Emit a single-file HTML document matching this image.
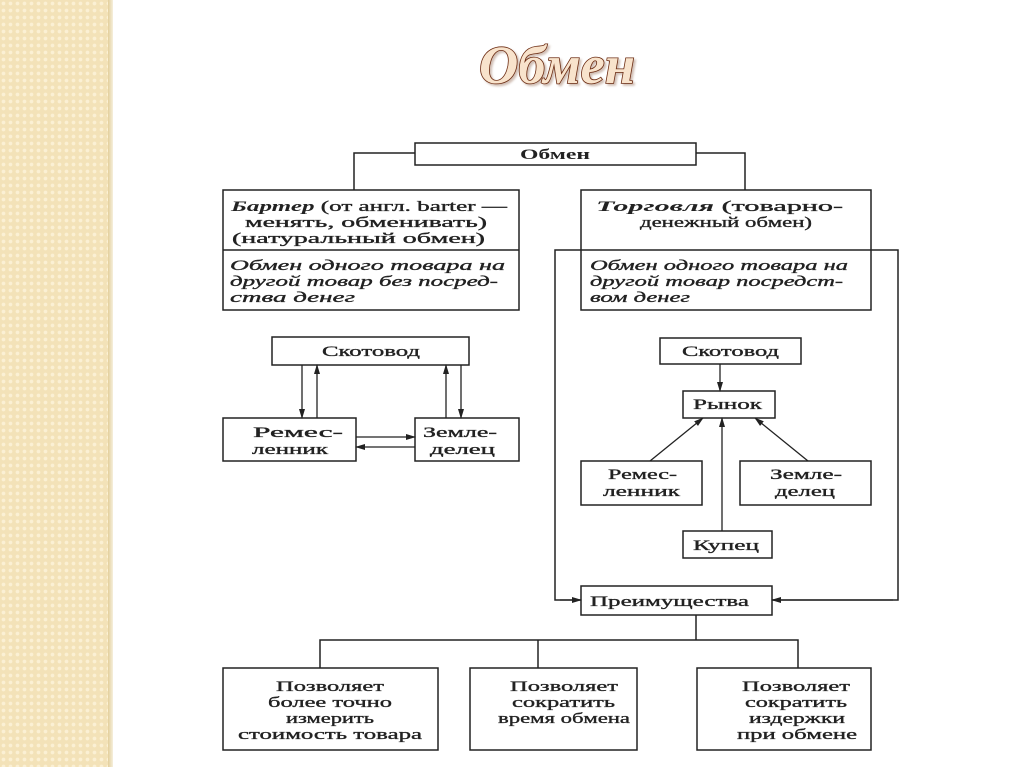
<!DOCTYPE html>
<html><head><meta charset="utf-8"><style>
html,body{margin:0;padding:0;width:1024px;height:767px;overflow:hidden;background:#fff}
.band{position:absolute;left:0;top:0;width:108px;height:767px;background-color:#f3e2b8;
background-image:radial-gradient(circle,#fbf0d4 1.5px,transparent 2.2px);background-size:7px 7px}
.edge{position:absolute;left:108px;top:0;width:5px;height:767px;background:linear-gradient(90deg,#e3cf9c,#f6efdc)}
svg{position:absolute;left:0;top:0}
text{font-family:"Liberation Serif",serif;font-size:15px;fill:#222;font-weight:bold}
.n{font-weight:normal;stroke:#222;stroke-width:0.35px}
.it{font-style:italic;font-weight:normal;stroke:#222;stroke-width:0.35px}
.t{font-family:"Liberation Serif",serif;font-style:italic;font-weight:bold;font-size:54px;fill:#f8e3cc;stroke:#6b2a10;stroke-width:1.6px;paint-order:stroke}
</style></head><body>
<div class="band"></div><div class="edge"></div>
<svg width="1024" height="767" viewBox="0 0 1024 767">
<defs><marker id="a" markerWidth="10" markerHeight="8" refX="9" refY="4" orient="auto" markerUnits="userSpaceOnUse"><path d="M0,1 L10,4 L0,7 Z" fill="#222"/></marker></defs>
<text x="479" y="83" class="t" textLength="156" lengthAdjust="spacingAndGlyphs" style="filter:drop-shadow(2px 2px 1px rgba(120,70,40,.35))">Обмен</text>
<g fill="none" stroke="#222" stroke-width="1.5">
<rect x="415" y="143" width="281" height="22"/>
<polyline points="415,153 354,153 354,190"/>
<polyline points="696,153 745,153 745,190"/>
<rect x="223" y="190" width="296" height="120"/><line x1="223" y1="250" x2="519" y2="250"/>
<rect x="581" y="190" width="290" height="120"/>
<polyline points="581,600 555,600 555,250 898,250 898,600 772,600" />
<rect x="272" y="337" width="197" height="28"/>
<rect x="223" y="418" width="133" height="43"/>
<rect x="415" y="418" width="104" height="43"/>
<rect x="660" y="338" width="141" height="26"/>
<rect x="683" y="391" width="92" height="27"/>
<rect x="581" y="461" width="121" height="44"/>
<rect x="740" y="461" width="131" height="44"/>
<rect x="683" y="531" width="89" height="27"/>
<rect x="581" y="586" width="191" height="29"/>
<polyline points="696,615 696,640"/>
<polyline points="320,668 320,640 798,640 798,668"/>
<line x1="538" y1="640" x2="538" y2="668"/>
<rect x="223" y="668" width="215" height="82"/>
<rect x="470" y="668" width="167" height="82"/>
<rect x="697" y="668" width="174" height="82"/>
</g>
<g stroke="#222" stroke-width="1.3" marker-end="url(#a)">
<line x1="302" y1="365" x2="302" y2="418"/>
<line x1="317" y1="418" x2="317" y2="365"/>
<line x1="446" y1="418" x2="446" y2="365"/>
<line x1="461" y1="365" x2="461" y2="418"/>
<line x1="356" y1="437" x2="415" y2="437"/>
<line x1="415" y1="447" x2="356" y2="447"/>
<line x1="720" y1="364" x2="720" y2="391"/>
<line x1="722" y1="531" x2="722" y2="418"/>
<line x1="650" y1="461" x2="703" y2="418"/>
<line x1="808" y1="461" x2="755" y2="418"/>
<line x1="560" y1="600" x2="581" y2="600"/>
<line x1="893" y1="600" x2="772" y2="600"/>
</g>
<g lengthAdjust="spacingAndGlyphs">
<text x="520" y="159" textLength="70" lengthAdjust="spacingAndGlyphs">Обмен</text>
<text x="231" y="211" textLength="276" lengthAdjust="spacingAndGlyphs"><tspan font-style="italic">Бартер</tspan><tspan class="n"> (от англ. barter —</tspan></text>
<text x="245" y="227" class="n" textLength="242" lengthAdjust="spacingAndGlyphs">менять, обменивать)</text>
<text x="232" y="243" class="n" textLength="253" lengthAdjust="spacingAndGlyphs">(натуральный обмен)</text>
<text x="230" y="270" class="it" textLength="275" lengthAdjust="spacingAndGlyphs">Обмен одного товара на</text>
<text x="230" y="286" class="it" textLength="268" lengthAdjust="spacingAndGlyphs">другой товар без посред-</text>
<text x="230" y="302" class="it" textLength="125" lengthAdjust="spacingAndGlyphs">ства денег</text>
<text x="596" y="211" textLength="247" lengthAdjust="spacingAndGlyphs"><tspan font-style="italic">Торговля</tspan><tspan class="n"> (товарно-</tspan></text>
<text x="640" y="227" class="n" textLength="172" lengthAdjust="spacingAndGlyphs">денежный обмен)</text>
<text x="590" y="270" class="it" textLength="258" lengthAdjust="spacingAndGlyphs">Обмен одного товара на</text>
<text x="590" y="286" class="it" textLength="253" lengthAdjust="spacingAndGlyphs">другой товар посредст-</text>
<text x="590" y="302" class="it" textLength="100" lengthAdjust="spacingAndGlyphs">вом денег</text>
<text x="322" y="356" class="n" textLength="98" lengthAdjust="spacingAndGlyphs">Скотовод</text>
<text x="253" y="437" class="n" textLength="90" lengthAdjust="spacingAndGlyphs">Ремес-</text>
<text x="252" y="454" class="n" textLength="76" lengthAdjust="spacingAndGlyphs">ленник</text>
<text x="423" y="437" class="n" textLength="74" lengthAdjust="spacingAndGlyphs">Земле-</text>
<text x="430" y="454" class="n" textLength="65" lengthAdjust="spacingAndGlyphs">делец</text>
<text x="682" y="356" class="n" textLength="97" lengthAdjust="spacingAndGlyphs">Скотовод</text>
<text x="693" y="409" class="n" textLength="69" lengthAdjust="spacingAndGlyphs">Рынок</text>
<text x="608" y="479" class="n" textLength="69" lengthAdjust="spacingAndGlyphs">Ремес-</text>
<text x="603" y="496" class="n" textLength="77" lengthAdjust="spacingAndGlyphs">ленник</text>
<text x="770" y="479" class="n" textLength="72" lengthAdjust="spacingAndGlyphs">Земле-</text>
<text x="775" y="496" class="n" textLength="60" lengthAdjust="spacingAndGlyphs">делец</text>
<text x="693" y="550" class="n" textLength="66" lengthAdjust="spacingAndGlyphs">Купец</text>
<text x="590" y="606" class="n" textLength="159" lengthAdjust="spacingAndGlyphs">Преимущества</text>
<text x="276" y="691" class="n" textLength="108" lengthAdjust="spacingAndGlyphs">Позволяет</text>
<text x="268" y="707" class="n" textLength="124" lengthAdjust="spacingAndGlyphs">более точно</text>
<text x="286" y="723" class="n" textLength="88" lengthAdjust="spacingAndGlyphs">измерить</text>
<text x="238" y="739" class="n" textLength="184" lengthAdjust="spacingAndGlyphs">стоимость товара</text>
<text x="510" y="691" class="n" textLength="108" lengthAdjust="spacingAndGlyphs">Позволяет</text>
<text x="512" y="707" class="n" textLength="103" lengthAdjust="spacingAndGlyphs">сократить</text>
<text x="498" y="723" class="n" textLength="132" lengthAdjust="spacingAndGlyphs">время обмена</text>
<text x="742" y="691" class="n" textLength="108" lengthAdjust="spacingAndGlyphs">Позволяет</text>
<text x="745" y="707" class="n" textLength="102" lengthAdjust="spacingAndGlyphs">сократить</text>
<text x="749" y="723" class="n" textLength="96" lengthAdjust="spacingAndGlyphs">издержки</text>
<text x="737" y="739" class="n" textLength="120" lengthAdjust="spacingAndGlyphs">при обмене</text>
</g>
</svg>
</body></html>
